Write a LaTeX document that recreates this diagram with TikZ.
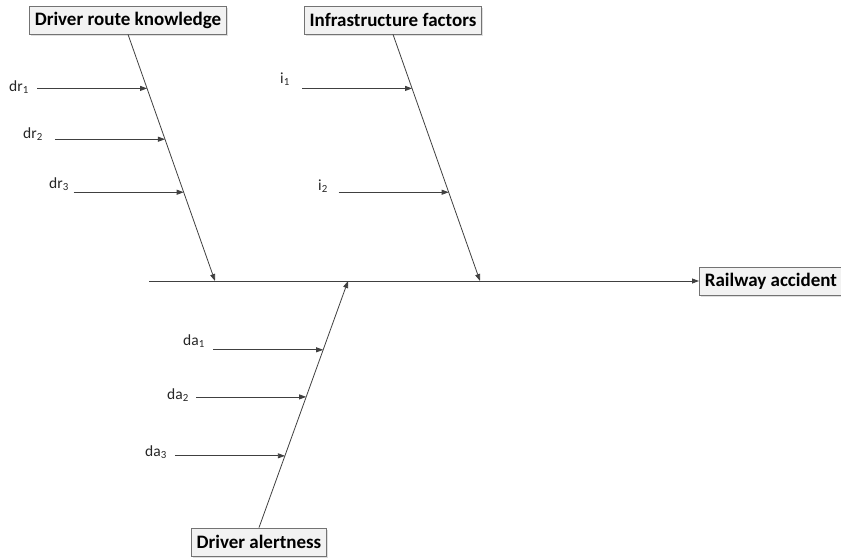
\documentclass[tikz,border=0pt]{standalone}
\usepackage{fontspec}
\setmainfont{Carlito}
\usetikzlibrary{arrows.meta,shadows,calc}
\begin{document}
\begin{tikzpicture}[x=1pt,y=-1pt,line/.style={draw=black!75,line width=0.8pt},fin/.style={line,-{Triangle[length=7pt,width=5pt]}},cause/.style={shape=rectangle,draw=black!55,fill=black!5,line width=0.8pt,minimum height=28pt,inner xsep=5.5pt,inner ysep=2pt,font=\fontsize{19}{21}\selectfont\bfseries,drop shadow={shadow xshift=1.5pt,shadow yshift=-1.5pt,opacity=0.25}},sub/.style={font=\fontsize{15.5}{17}\selectfont,text=black!85}]
\def\len{110};
\useasboundingbox (0,0) rectangle (841,558);

% spine
\coordinate (tail) at (149,281);
\node[cause,anchor=west] (RA) at (699,281) {Railway accident};
\draw[fin] (tail) -- (RA.west);

% ribs
\node[cause] (DR) at (128,20) {Driver route knowledge};
\coordinate (j1) at (215,281);
\draw[fin] (DR.south) -- (j1);
\node[cause] (IF) at (393,20) {Infrastructure factors};
\coordinate (j2) at (480,281);
\draw[fin] (IF.south) -- (j2);
\node[cause] (DA) at (259,542) {Driver alertness};
\coordinate (j3) at (348,281);
\draw[fin] (DA.north) -- (j3);

% driver route knowledge
\path (DR.south) -- (j1) coordinate[pos=0.219] (e1) coordinate[pos=0.425] (e2) coordinate[pos=0.640] (e3);
\coordinate (s1) at ($(e1)+(-\len,0)$);
\coordinate (s2) at ($(e2)+(-\len,0)$);
\coordinate (s3) at ($(e3)+(-\len,0)$);
\node[sub] (dr1) at (19,87) {dr\textsubscript{1}};
\draw[fin] (s1) -- (e1);
\node[sub] (dr2) at (33,134) {dr\textsubscript{2}};
\draw[fin] (s2) -- (e2);
\node[sub] (dr3) at (59,184) {dr\textsubscript{3}};
\draw[fin] (s3) -- (e3);

% infrastructure factors
\path (IF.south) -- (j2) coordinate[pos=0.219] (e4) coordinate[pos=0.640] (e5);
\coordinate (s4) at ($(e4)+(-\len,0)$);
\coordinate (s5) at ($(e5)+(-\len,0)$);
\node[sub] (i1) at (285,79) {i\textsubscript{1}};
\draw[fin] (s4) -- (e4);
\node[sub] (i2) at (323,186) {i\textsubscript{2}};
\draw[fin] (s5) -- (e5);

% driver alertness
\path (DA.north) -- (j3) coordinate[pos=0.721] (e6) coordinate[pos=0.530] (e7) coordinate[pos=0.291] (e8);
\coordinate (s6) at ($(e6)+(-\len,0)$);
\coordinate (s7) at ($(e7)+(-\len,0)$);
\coordinate (s8) at ($(e8)+(-\len,0)$);
\node[sub] (da1) at (194,341) {da\textsubscript{1}};
\draw[fin] (s6) -- (e6);
\node[sub] (da2) at (178,395) {da\textsubscript{2}};
\draw[fin] (s7) -- (e7);
\node[sub] (da3) at (156,452) {da\textsubscript{3}};
\draw[fin] (s8) -- (e8);
\end{tikzpicture}
\end{document}
